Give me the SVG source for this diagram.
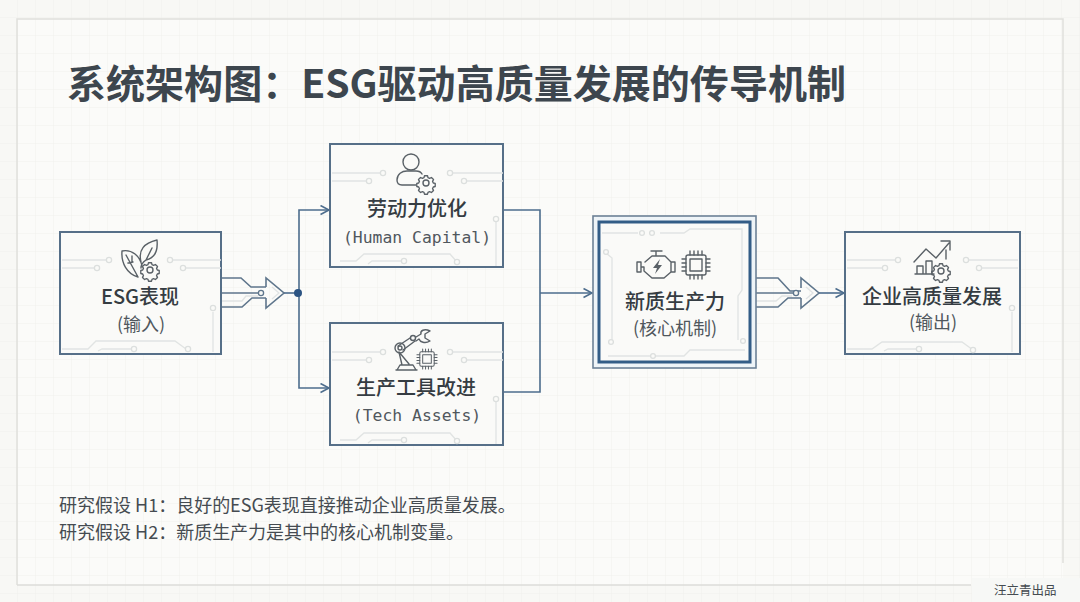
<svg xmlns="http://www.w3.org/2000/svg" xmlns:xlink="http://www.w3.org/1999/xlink" width="1080" height="602" viewBox="0 0 1080 602">
<style>
.cjk{font-family:"Noto Sans CJK SC","Noto Sans",sans-serif}
.title{font-size:39px;font-weight:700;fill:#3d464e}
.name{font-size:20px;font-weight:500;fill:#353c42;text-anchor:middle}
.sub{font-size:18px;fill:#50575d;text-anchor:middle}
.mono{font-family:"DejaVu Sans Mono","Liberation Mono","Noto Sans CJK SC",monospace;font-size:16.4px;fill:#50575d;text-anchor:middle}
.note{font-size:18px;fill:#454b51}
.box{fill:#fafaf8;stroke:#566f88;stroke-width:2}
.trace{fill:none;stroke:#e1e4e3;stroke-width:1.3}
.pad{fill:#fafaf8;stroke:#dcdfde;stroke-width:1.3}
.icon{fill:none;stroke:#5a6167;stroke-width:1.4;stroke-linejoin:round;stroke-linecap:round}
.conn{fill:none;stroke:#4d6d8d;stroke-width:1.6}
.bus{fill:none;stroke:#5f768c;stroke-width:1.6}
.grid{stroke:#eeeeea;stroke-width:1;fill:none}
</style>
<defs>
<pattern id="g" width="18" height="18" patternUnits="userSpaceOnUse"><path class="grid" d="M18 0V18H0"/></pattern>
<marker id="arr" markerWidth="12" markerHeight="12" refX="9.5" refY="5" orient="auto" markerUnits="userSpaceOnUse"><path d="M1 .5L9.5 5L1 9.5" fill="none" stroke="#4d6d8d" stroke-width="1.6"/></marker>
<g id="gear"><circle r="3" class="icon"/><path class="icon" d="M-1.6-7.6h3.2l.5 2 1.7.8 1.9-1 2.2 2.2-1 1.9.8 1.7 2 .5v3.2l-2 .5-.8 1.7 1 1.9-2.2 2.2-1.9-1-1.7.8-.5 2h-3.2l-.5-2-1.7-.8-1.9 1-2.2-2.2 1-1.9-.8-1.7-2-.5v-3.2l2-.5.8-1.7-1-1.9 2.2-2.2 1.9 1 1.7-.8z" transform="scale(.95)"/></g>
<g id="chip"><rect x="-10" y="-10" width="20" height="20" rx="2" class="icon"/><rect x="-6" y="-6" width="12" height="12" class="icon"/><path class="icon" d="M-6-10v-4M-2-10v-4M2-10v-4M6-10v-4M-6 10v4M-2 10v4M2 10v4M6 10v4M-10-6h-4M-10-2h-4M-10 2h-4M-10 6h-4M10-6h4M10-2h4M10 2h4M10 6h4"/></g>
</defs>

<rect width="1080" height="602" fill="#f8f8f5"/>
<rect x="17" y="19" width="1046" height="566" fill="#fbfbf9"/>
<rect width="1080" height="602" fill="url(#g)" opacity=".8"/>
<path d="M17 585V19H1063V563" fill="none" stroke="#e0e0dc" stroke-width="1.5"/>
<path d="M17 585H971" fill="none" stroke="#dcdcd8" stroke-width="1.5"/>

<text class="cjk title" x="67" y="98" textLength="779" lengthAdjust="spacingAndGlyphs">系统架构图：ESG驱动高质量发展的传导机制</text>

<g id="connectors">
<path class="conn" d="M283 293H298"/>
<path class="conn" d="M299 293V210H329" marker-end="url(#arr)"/>
<path class="conn" d="M299 293V388H329" marker-end="url(#arr)"/>
<circle cx="298" cy="293" r="4" fill="#2c5483"/>
<path class="conn" d="M504 210H540V392H504"/>
<path class="conn" d="M540 293H592" marker-end="url(#arr)"/>
<path class="conn" d="M819 293H844" marker-end="url(#arr)"/>
<g id="bus-a">
<path class="bus" d="M221 278H241L251 287H266M221 293H258M221 307H242L252 298H266"/>
<path class="trace" d="M221 301H242L246 296H258"/>
<circle cx="261" cy="293" r="2.6" fill="#f8f8f5" stroke="#5f768c" stroke-width="1.3"/>
<path d="M266 298V308L284 293L266 278V287" fill="none" stroke="#5f768c" stroke-width="1.6"/>
<path d="M272 287L279 293L272 299" fill="none" stroke="#e0e3e4" stroke-width="1.3"/>
</g>
<g id="bus-b">
<path class="bus" d="M756 278H778L790 291H801M756 293H793M756 307H778L788 298H801"/>
<path class="trace" d="M756 301H776L782 296H792"/>
<circle cx="796" cy="293" r="2.6" fill="#f8f8f5" stroke="#5f768c" stroke-width="1.3"/>
<path d="M801 298V308L819 293L801 278V288" fill="none" stroke="#5f768c" stroke-width="1.6"/>
<path d="M806 287L813 293L806 299" fill="none" stroke="#e0e3e4" stroke-width="1.3"/>
</g>
</g>

<g id="node-esg">
<rect class="box" x="60" y="232" width="161" height="122"/>
<path class="trace" d="M62 260H106M62 268H94M172 260H221M185 268H221M213 312V352M62 349H88L96 341H175L186 349M98 351L102 349H134"/>
<circle class="pad" cx="109" cy="260" r="2.6"/><circle class="pad" cx="97" cy="268" r="2.6"/><circle class="pad" cx="170" cy="260" r="2.6"/><circle class="pad" cx="183" cy="268" r="2.6"/><circle class="pad" cx="213" cy="308" r="2.6"/><circle class="pad" cx="134" cy="349" r="2.6"/><circle class="pad" cx="188" cy="349" r="2.6"/>
<g id="icon-esg">
<path class="icon" d="M138 277C127 274 121 263 122 251C132 249 140 256 142 266M126 255L138 277M128 263L133 262M132 256V262M141 262C138 250 144 243 157 240C158 250 155 258 146 260C143 262 141 264 141 268M146 260L152 248"/>
<use href="#gear" x="150" y="270"/>
</g>
<text class="cjk name" x="140" y="304">ESG表现</text>
<text class="cjk sub" x="141" y="331">(输入)</text>
</g>

<g id="node-labor">
<rect class="box" x="330" y="144" width="173" height="123"/>
<path class="trace" d="M332 173H382M332 181H368M450 173H503M465 181H503M496 222V266M340 261H356L364 254H450L457 262M368 264L372 261H402"/>
<circle class="pad" cx="383" cy="173" r="2.6"/><circle class="pad" cx="369" cy="181" r="2.6"/><circle class="pad" cx="450" cy="173" r="2.6"/><circle class="pad" cx="464" cy="181" r="2.6"/><circle class="pad" cx="496" cy="219" r="2.6"/><circle class="pad" cx="404" cy="261" r="2.6"/><circle class="pad" cx="457" cy="262" r="2.6"/>
<g id="icon-labor">
<circle class="icon" cx="411" cy="162" r="8"/>
<path class="icon" d="M416 185H402C398 185 397 183 397 180C397 174 402 171 407 171H416C419 171 421 172 422 174"/>
<use href="#gear" x="426" y="183"/>
</g>
<text class="cjk name" x="417" y="216">劳动力优化</text>
<text class="mono" x="417" y="243">(Human Capital)</text>
</g>

<g id="node-tech">
<rect class="box" x="330" y="323" width="173" height="122"/>
<path class="trace" d="M332 352H382M332 360H368M450 352H503M465 360H503M496 402V444M340 440H356L364 433H450L457 441M368 443L372 440H402"/>
<circle class="pad" cx="383" cy="352" r="2.6"/><circle class="pad" cx="369" cy="360" r="2.6"/><circle class="pad" cx="450" cy="352" r="2.6"/><circle class="pad" cx="464" cy="360" r="2.6"/><circle class="pad" cx="496" cy="399" r="2.6"/><circle class="pad" cx="404" cy="440" r="2.6"/><circle class="pad" cx="457" cy="441" r="2.6"/>
<g id="icon-tech">
<path class="icon" d="M396 370H417M397 370L400 365H413L416 370M402 365L399 352L409 364M398 346L410 338M403 350L415 341"/>
<circle class="icon" cx="400" cy="348" r="5"/><circle class="icon" cx="400" cy="348" r="2"/><circle class="icon" cx="413" cy="338" r="2.5"/>
<path class="icon" d="M416 337L421 334C420 331 424 328 430 331L425 334V338L430 341C425 344 420 342 419 339L416 341"/>
<use href="#chip" transform="translate(427 359) scale(.72)"/>
</g>
<text class="cjk name" x="416" y="395">生产工具改进</text>
<text class="mono" x="417" y="421">(Tech Assets)</text>
</g>

<g id="node-core">
<rect x="593" y="216" width="163" height="152" fill="#eef4f8" stroke="#6c8196" stroke-width="1.6"/>
<rect x="599" y="222" width="151" height="140" fill="#fafaf8" stroke="#335d87" stroke-width="3"/>
<path class="trace" d="M602 233H638M660 233H684L690 229H742V290L738 296V340M606 253L612 258V340M608 356H650M656 356H684L690 350H745"/>
<circle class="pad" cx="642" cy="233" r="2.4"/><circle class="pad" cx="652" cy="233" r="2.4"/><circle class="pad" cx="606" cy="252" r="2.4"/><circle class="pad" cx="611" cy="342" r="2.4"/><circle class="pad" cx="653" cy="356" r="2.4"/><circle class="pad" cx="743" cy="341" r="2.4"/>
<g id="icon-core">
<path class="icon" d="M651 251H662M656 251V256M645 262L652 256H665L671 262V272L664 278H652L644 271V267H641M641 262V272M637 262H641M637 272H641M637 262V272M671 262H675V272H671"/>
<path d="M660 259L653 268H657L655 274L662 265H658Z" fill="#5a6167"/>
<use href="#chip" x="696" y="265"/>
</g>
<text class="cjk name" x="675" y="309">新质生产力</text>
<text class="cjk sub" x="675" y="335">(核心机制)</text>
</g>

<g id="node-output">
<rect class="box" x="845" y="232" width="175" height="122"/>
<path class="trace" d="M847 260H895M847 268H882M968 260H1018M980 268H1018M1012 312V352M847 349H872L882 342H962L973 350M884 351L888 349H918"/>
<circle class="pad" cx="898" cy="260" r="2.6"/><circle class="pad" cx="885" cy="268" r="2.6"/><circle class="pad" cx="966" cy="260" r="2.6"/><circle class="pad" cx="979" cy="268" r="2.6"/><circle class="pad" cx="1012" cy="308" r="2.6"/><circle class="pad" cx="919" cy="349" r="2.6"/><circle class="pad" cx="973" cy="350" r="2.6"/>
<g id="icon-output">
<path class="icon" d="M914 262L926 249L936 258L949 243M941 241H950V250M915 274H934M917 274V266H923V274M926 274V261H932V274M946 250V259"/>
<use href="#gear" x="941" y="271"/>
</g>
<text class="cjk name" x="932" y="304">企业高质量发展</text>
<text class="cjk sub" x="933" y="329">(输出)</text>
</g>

<g id="notes">
<text class="cjk note" x="59" y="512">研究假设 H1：良好的ESG表现直接推动企业高质量发展。</text>
<text class="cjk note" x="59" y="539">研究假设 H2：新质生产力是其中的核心机制变量。</text>
</g>
<rect x="972" y="578" width="108" height="24" fill="#f7f8f6"/>
<text class="cjk" x="994" y="595" font-size="12.5" fill="#454b50">汪立青出品</text>
</svg>
